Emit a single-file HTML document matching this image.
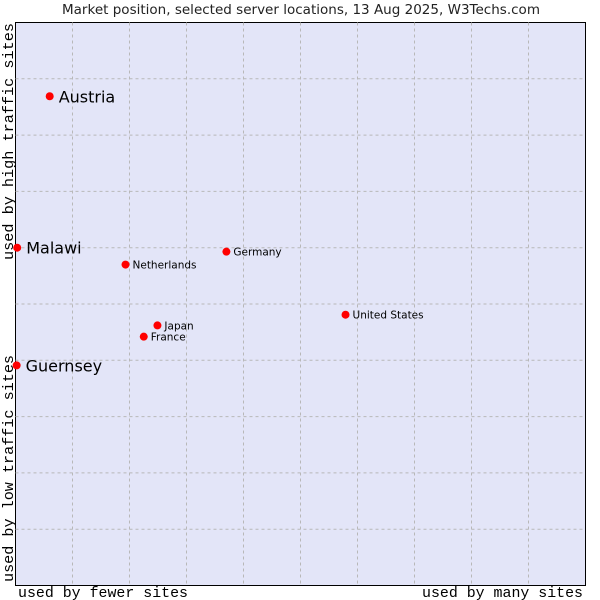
<!DOCTYPE html>
<html><head><meta charset="utf-8"><style>
body{margin:0;background:#fff;width:600px;height:600px;overflow:hidden}
svg{display:block}
</style></head><body>
<svg id="chart" width="600" height="600" xmlns="http://www.w3.org/2000/svg">
<text x="62" y="14" textLength="478" lengthAdjust="spacingAndGlyphs" font-family="DejaVu Sans, Liberation Sans, sans-serif" font-size="13" fill="#222">Market position, selected server locations, 13 Aug 2025, W3Techs.com</text>
<rect x="15.5" y="22.5" width="570" height="563" fill="#e3e5f8" stroke="#000"/>
<g id="grid"></g>
<g id="marks"></g>
<text x="18" y="597" textLength="170" lengthAdjust="spacingAndGlyphs" font-family="Liberation Mono, DejaVu Sans Mono, monospace" font-size="15" fill="#000">used by fewer sites</text>
<text x="422" y="597" textLength="161" lengthAdjust="spacingAndGlyphs" font-family="Liberation Mono, DejaVu Sans Mono, monospace" font-size="15" fill="#000">used by many sites</text>
<text transform="translate(13,582) rotate(-90)" textLength="227" lengthAdjust="spacingAndGlyphs" font-family="Liberation Mono, DejaVu Sans Mono, monospace" font-size="15" fill="#000">used by low traffic sites</text>
<text transform="translate(13,260) rotate(-90)" textLength="237" lengthAdjust="spacingAndGlyphs" font-family="Liberation Mono, DejaVu Sans Mono, monospace" font-size="15" fill="#000">used by high traffic sites</text>
</svg>
<script>
const names = ["Austria","Malawi","Netherlands","Germany","United States","Japan","France","Guernsey"];
const xValues = [6.0,0.3,19.3,37.0,57.9,24.9,22.5,0.2];
const yValues = [86.9,60.0,57.0,59.3,48.1,46.2,44.2,39.1];
const bigLabel = [true,true,false,false,false,false,false,true];
const L=15.5,T=22.5,W=570,H=563;
const sx=v=>L+v/100*W, sy=v=>T+H-v/100*H;
const NS="http://www.w3.org/2000/svg";
const grid=document.getElementById('grid');
for(let i=1;i<10;i++){
  const v=document.createElementNS(NS,'line');
  v.setAttribute('x1',sx(i*10));v.setAttribute('x2',sx(i*10));v.setAttribute('y1',T);v.setAttribute('y2',T+H);
  v.setAttribute('stroke','#b8b8b8');v.setAttribute('stroke-dasharray','3,3');
  
  
  grid.appendChild(v);
  const h=document.createElementNS(NS,'line');
  h.setAttribute('y1',sy(i*10));h.setAttribute('y2',sy(i*10));h.setAttribute('x1',L);h.setAttribute('x2',L+W);
  h.setAttribute('stroke','#b8b8b8');h.setAttribute('stroke-dasharray','3,3');
  
  
  grid.appendChild(h);
}
const marks=document.getElementById('marks');
names.forEach((n,i)=>{
  const x=sx(xValues[i]),y=sy(yValues[i]);
  const c=document.createElementNS(NS,'circle');
  c.setAttribute('cx',x);c.setAttribute('cy',y);c.setAttribute('r',4);c.setAttribute('fill','#f00');
  
  
  marks.appendChild(c);
  const t=document.createElementNS(NS,'text');
  t.setAttribute('x',x+(bigLabel[i]?9:7));t.setAttribute('y',y+(bigLabel[i]?6:4));
  t.setAttribute('font-family','DejaVu Sans, Liberation Sans, sans-serif');
  t.setAttribute('font-size',bigLabel[i]?16:10.5);t.setAttribute('fill','#000');
  t.textContent=n;
  
  
  marks.appendChild(t);
});
</script>
</body></html>
